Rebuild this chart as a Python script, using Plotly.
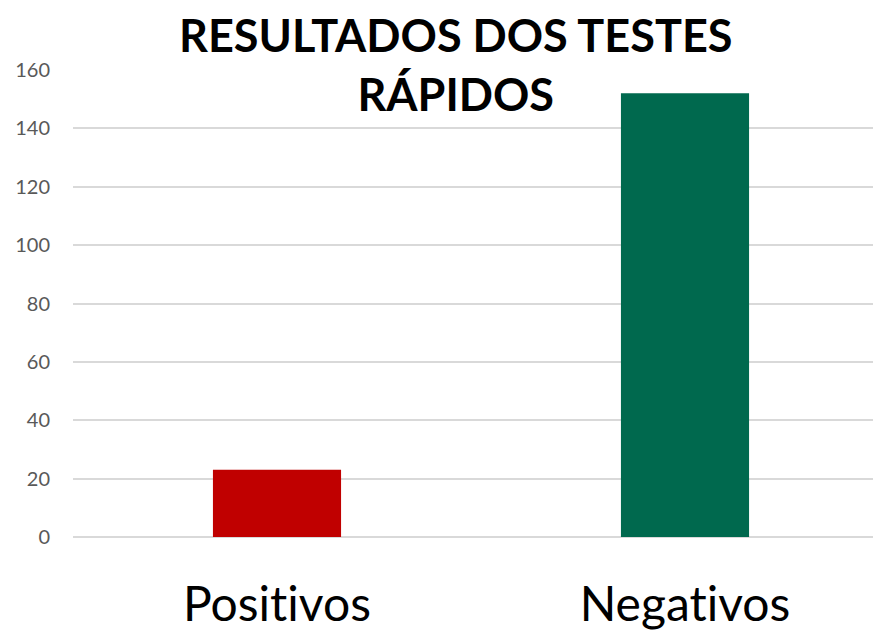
import plotly.graph_objects as go

categories = ["Positivos", "Negativos"]
category_labels = ["Posit\u200civos", "Negat\u200civos"]
values = [23, 152]
bar_colors = ["#C00000", "#00694E"]
y_ticks = [0, 20, 40, 60, 80, 100, 120, 140, 160]
title_text = "RESULTADOS DOS TESTES<br>RÁPIDOS"

fig = go.Figure(
    go.Bar(
        x=categories,
        y=values,
        marker=dict(color=bar_colors, line=dict(width=0)),
        width=0.314,
        hoverinfo="x+y",
    )
)

fig.update_layout(
    width=881,
    height=622,
    margin=dict(l=65, r=0, t=62, b=93),
    paper_bgcolor="white",
    plot_bgcolor="white",
    showlegend=False,
    font=dict(family="Lato"),
    annotations=[
        dict(
            text="<b>" + title_text + "</b>",
            font=dict(family="Lato", size=45, color="black"),
            xref="paper",
            yref="paper",
            x=(447 - 65) / 816,
            y=1.012,
            xanchor="center",
            yanchor="middle",
            showarrow=False,
            align="center",
        )
    ],
)

fig.update_xaxes(
    range=[-0.5, 1.5],
    tickvals=categories,
    ticktext=category_labels,
    showgrid=False,
    showline=False,
    ticks="",
    automargin=False,
    tickfont=dict(family="Lato", size=48, color="black"),
    ticklabelstandoff=35,
)

fig.update_yaxes(
    range=[0, 160],
    tickvals=y_ticks,
    showgrid=True,
    gridcolor="#D9D9D9",
    gridwidth=1.5,
    zeroline=True,
    zerolinecolor="#D9D9D9",
    zerolinewidth=1.5,
    showline=False,
    ticks="",
    automargin=False,
    tickfont=dict(family="Lato", size=20, color="#595959"),
    ticklabelstandoff=22,
)

fig.write_html("out.html")
